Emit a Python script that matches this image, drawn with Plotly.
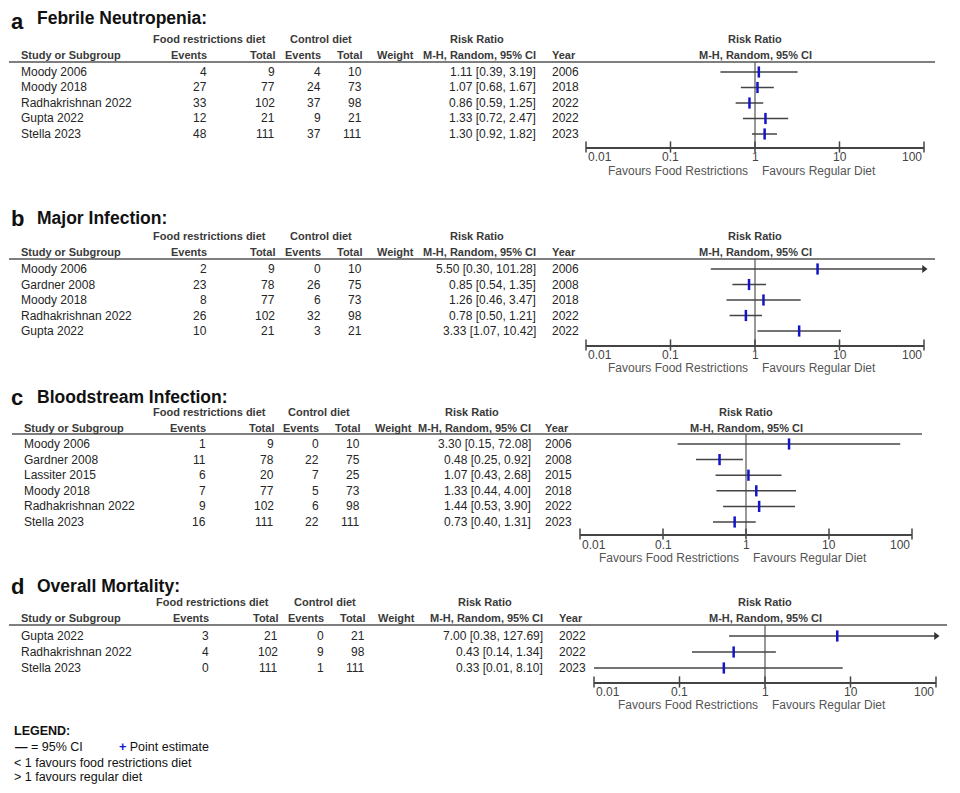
import math
import plotly.graph_objects as go

# reference canvas is 960x793; the html body adds an 8px margin, so the figure is
# drawn 8px in from the top-left corner and sized to fit inside the window.
OX, OY = 8, 8
W, H = 944, 777
FONT = "Arial, Liberation Sans, sans-serif"

# ---------------- data ----------------
a_studies = ["Moody 2006", "Moody 2018", "Radhakrishnan 2022", "Gupta 2022", "Stella 2023"]
a_ev_food = [4, 27, 33, 12, 48]
a_tot_food = [9, 77, 102, 21, 111]
a_ev_ctrl = [4, 24, 37, 9, 37]
a_tot_ctrl = [10, 73, 98, 21, 111]
a_rr = [1.11, 1.07, 0.86, 1.33, 1.30]
a_lo = [0.39, 0.68, 0.59, 0.72, 0.92]
a_hi = [3.19, 1.67, 1.25, 2.47, 1.82]
a_year = [2006, 2018, 2022, 2022, 2023]

b_studies = ["Moody 2006", "Gardner 2008", "Moody 2018", "Radhakrishnan 2022", "Gupta 2022"]
b_ev_food = [2, 23, 8, 26, 10]
b_tot_food = [9, 78, 77, 102, 21]
b_ev_ctrl = [0, 26, 6, 32, 3]
b_tot_ctrl = [10, 75, 73, 98, 21]
b_rr = [5.50, 0.85, 1.26, 0.78, 3.33]
b_lo = [0.30, 0.54, 0.46, 0.50, 1.07]
b_hi = [101.28, 1.35, 3.47, 1.21, 10.42]
b_year = [2006, 2008, 2018, 2022, 2022]

c_studies = ["Moody 2006", "Gardner 2008", "Lassiter 2015", "Moody 2018", "Radhakrishnan 2022", "Stella 2023"]
c_ev_food = [1, 11, 6, 7, 9, 16]
c_tot_food = [9, 78, 20, 77, 102, 111]
c_ev_ctrl = [0, 22, 7, 5, 6, 22]
c_tot_ctrl = [10, 75, 25, 73, 98, 111]
c_rr = [3.30, 0.48, 1.07, 1.33, 1.44, 0.73]
c_lo = [0.15, 0.25, 0.43, 0.44, 0.53, 0.40]
c_hi = [72.08, 0.92, 2.68, 4.00, 3.90, 1.31]
c_year = [2006, 2008, 2015, 2018, 2022, 2023]

d_studies = ["Gupta 2022", "Radhakrishnan 2022", "Stella 2023"]
d_ev_food = [3, 4, 0]
d_tot_food = [21, 102, 111]
d_ev_ctrl = [0, 9, 1]
d_tot_ctrl = [21, 98, 111]
d_rr = [7.00, 0.43, 0.33]
d_lo = [0.38, 0.14, 0.01]
d_hi = [127.69, 1.34, 8.10]
d_year = [2022, 2022, 2023]

tick_vals = [0.01, 0.1, 1, 10, 100]
tick_text = ["0.01", "0.1", "1", "10", "100"]
AX_MIN, AX_MAX = 0.01, 100

# ---------------- layout positions (reference pixels) ----------------
panels = [
    dict(letter="a", title="Febrile Neutropenia:",
         studies=a_studies, ev1=a_ev_food, tot1=a_tot_food, ev2=a_ev_ctrl, tot2=a_tot_ctrl,
         rr=a_rr, lo=a_lo, hi=a_hi, year=a_year,
         title_y=17, h1=39, h2=55, hdr=62, row0=72, sp=15.5, axis=147, tick_y=157, fav_y=171,
         ax_x=(586, 924), line_x=(9, 935),
         cols=dict(study=19, ev1=209, tot1=277, ev2=323, tot2=364, weight=375, rr=538, year=550),
         food_hdr=209, ctrl_hdr=321, rr_hdr=477),
    dict(letter="b", title="Major Infection:",
         studies=b_studies, ev1=b_ev_food, tot1=b_tot_food, ev2=b_ev_ctrl, tot2=b_tot_ctrl,
         rr=b_rr, lo=b_lo, hi=b_hi, year=b_year,
         title_y=217, h1=236, h2=252, hdr=259, row0=269, sp=15.5, axis=345, tick_y=355, fav_y=368,
         ax_x=(586, 924), line_x=(9, 935),
         cols=dict(study=19, ev1=209, tot1=277, ev2=323, tot2=364, weight=375, rr=538, year=550),
         food_hdr=209, ctrl_hdr=321, rr_hdr=477),
    dict(letter="c", title="Bloodstream Infection:",
         studies=c_studies, ev1=c_ev_food, tot1=c_tot_food, ev2=c_ev_ctrl, tot2=c_tot_ctrl,
         rr=c_rr, lo=c_lo, hi=c_hi, year=c_year,
         title_y=396, h1=412, h2=428, hdr=434, row0=444, sp=15.6, axis=534, tick_y=545, fav_y=558,
         ax_x=(580, 912), line_x=(12, 922),
         cols=dict(study=22, ev1=208, tot1=276, ev2=321, tot2=362, weight=373, rr=533, year=543),
         food_hdr=209, ctrl_hdr=319, rr_hdr=472),
    dict(letter="d", title="Overall Mortality:",
         studies=d_studies, ev1=d_ev_food, tot1=d_tot_food, ev2=d_ev_ctrl, tot2=d_tot_ctrl,
         rr=d_rr, lo=d_lo, hi=d_hi, year=d_year,
         title_y=585, h1=602, h2=618, hdr=625, row0=636, sp=16, axis=682, tick_y=692, fav_y=705,
         ax_x=(594, 936), line_x=(9, 947),
         cols=dict(study=19, ev1=211, tot1=280, ev2=326, tot2=367, weight=376, rr=545, year=557),
         food_hdr=212, ctrl_hdr=325, rr_hdr=485),
]

TXT = "#262626"
HDR = "#3a3a3a"
CI_COL = "#444444"
PT_COL = "#1414c8"
F_TXT = 12
F_HDR = 11
F_LETTER = 22


def px(x):
    return (x - OX) / W


def py(y):
    return 1 - (y - OY) / H


fig = go.Figure()
annotations = []
shapes = []
layout_axes = {}

for k, p in enumerate(panels, start=1):
    xa = "x" if k == 1 else f"x{k}"
    ya = "y" if k == 1 else f"y{k}"
    xkey = "xaxis" if k == 1 else f"xaxis{k}"
    ykey = "yaxis" if k == 1 else f"yaxis{k}"
    n = len(p["studies"])
    top = -(p["row0"] - p["hdr"]) / p["sp"]
    bot = (p["axis"] - p["row0"]) / p["sp"]
    rows = list(range(n))

    layout_axes[xkey] = dict(type="log", range=[math.log10(AX_MIN), math.log10(AX_MAX)],
                             domain=[px(p["ax_x"][0]), px(p["ax_x"][1])], anchor=ya,
                             showline=True, linecolor="#444", linewidth=1.5,
                             showgrid=False, zeroline=False, ticks="", showticklabels=False,
                             fixedrange=True)
    layout_axes[ykey] = dict(range=[bot, top], domain=[py(p["axis"]), py(p["hdr"])],
                             anchor=xa, visible=False, fixedrange=True)

    # vertical line at RR = 1
    fig.add_trace(go.Scatter(x=[1, 1], y=[top, bot], xaxis=xa, yaxis=ya, mode="lines",
                             line=dict(color="#333", width=1), hoverinfo="skip", showlegend=False))
    # axis tick marks
    fig.add_trace(go.Scatter(x=tick_vals, y=[bot] * len(tick_vals), xaxis=xa, yaxis=ya,
                             mode="markers", cliponaxis=False,
                             marker=dict(symbol="line-ns", size=8, line=dict(color="#444", width=1.5)),
                             hoverinfo="skip", showlegend=False))
    # CI lines
    for i in rows:
        lo = max(p["lo"][i], AX_MIN)
        hi = min(p["hi"][i], AX_MAX)
        fig.add_trace(go.Scatter(x=[lo, hi], y=[i, i], xaxis=xa, yaxis=ya, mode="lines",
                                 line=dict(color=CI_COL, width=1.5), hoverinfo="skip",
                                 showlegend=False, cliponaxis=False))
    # arrows for CIs beyond the axis
    arr_x = [AX_MAX for i in rows if p["hi"][i] > AX_MAX]
    arr_y = [i for i in rows if p["hi"][i] > AX_MAX]
    if arr_x:
        fig.add_trace(go.Scatter(x=arr_x, y=arr_y, xaxis=xa, yaxis=ya, mode="markers",
                                 cliponaxis=False,
                                 marker=dict(symbol="triangle-right", size=7, color="#333"),
                                 hoverinfo="skip", showlegend=False))
    # point estimates
    fig.add_trace(go.Scatter(x=p["rr"], y=rows, xaxis=xa, yaxis=ya, mode="markers",
                             marker=dict(symbol="line-ns", size=8, line=dict(color=PT_COL, width=2.5)),
                             hoverinfo="skip", showlegend=False))

    # header rule
    shapes.append(dict(type="line", xref="paper", yref="paper",
                       x0=px(p["line_x"][0]), x1=px(p["line_x"][1]),
                       y0=py(p["hdr"]), y1=py(p["hdr"]), line=dict(color="#555", width=1.5)))

    # title (panel letter kept fully inside the canvas)
    letter_y = max(p["title_y"] + 1.5, OY + (F_LETTER * 1.12 + 2) / 2)
    annotations.append(dict(text=f"<b>{p['letter']}</b>", xref="paper", yref="paper",
                            x=px(9), y=py(letter_y), xanchor="left", yanchor="middle",
                            showarrow=False, font=dict(size=F_LETTER, color="#111", family=FONT)))
    annotations.append(dict(text=f"<b>{p['title']}</b>", xref="paper", yref="paper",
                            x=px(35), y=py(p["title_y"] + 1), xanchor="left", yanchor="middle",
                            showarrow=False, font=dict(size=17.5, color="#111", family=FONT)))

    c = p["cols"]

    def hdr_text(text, x, y, anchor):
        annotations.append(dict(text=f"<b>{text}</b>", xref="paper", yref="paper",
                                x=px(x), y=py(y), xanchor=anchor, yanchor="middle",
                                showarrow=False, font=dict(size=F_HDR, color=HDR, family=FONT)))

    hdr_text("Food restrictions diet", p["food_hdr"], p["h1"], "center")
    hdr_text("Control diet", p["ctrl_hdr"], p["h1"], "center")
    hdr_text("Risk Ratio", p["rr_hdr"], p["h1"], "center")
    hdr_text("Study or Subgroup", c["study"], p["h2"], "left")
    hdr_text("Events", c["ev1"], p["h2"], "right")
    hdr_text("Total", c["tot1"], p["h2"], "right")
    hdr_text("Events", c["ev2"], p["h2"], "right")
    hdr_text("Total", c["tot2"], p["h2"], "right")
    hdr_text("Weight", c["weight"], p["h2"], "left")
    hdr_text("M-H, Random, 95% CI", c["rr"], p["h2"], "right")
    hdr_text("Year", c["year"], p["h2"], "left")
    # right-hand header centred on RR = 1
    for txt, yy in (("Risk Ratio", p["h1"]), ("M-H, Random, 95% CI", p["h2"])):
        annotations.append(dict(text=f"<b>{txt}</b>", xref=xa, yref="paper", x=0,
                                y=py(yy), xanchor="center", yanchor="middle", showarrow=False,
                                font=dict(size=F_HDR, color=HDR, family=FONT)))

    # table rows
    for i in rows:
        cells = [
            (p["studies"][i], c["study"], "left"),
            (str(p["ev1"][i]), c["ev1"], "right"),
            (str(p["tot1"][i]), c["tot1"], "right"),
            (str(p["ev2"][i]), c["ev2"], "right"),
            (str(p["tot2"][i]), c["tot2"], "right"),
            (f"{p['rr'][i]:.2f} [{p['lo'][i]:.2f}, {p['hi'][i]:.2f}]", c["rr"], "right"),
            (str(p["year"][i]), c["year"], "left"),
        ]
        for txt, x, anc in cells:
            annotations.append(dict(text=txt, xref="paper", yref=ya, x=px(x), y=i,
                                    xanchor=anc, yanchor="middle", showarrow=False,
                                    font=dict(size=F_TXT, color=TXT, family=FONT)))

    # tick labels
    for j, (tv, tt) in enumerate(zip(tick_vals, tick_text)):
        anc = "left" if j == 0 else ("right" if j == len(tick_vals) - 1 else "center")
        annotations.append(dict(text=tt, xref=xa, yref="paper", x=math.log10(tv),
                                y=py(p["tick_y"]), xanchor=anc, yanchor="middle", showarrow=False,
                                font=dict(size=12, color="#444", family=FONT)))
    # favours labels
    annotations.append(dict(text="Favours Food Restrictions", xref=xa, yref="paper", x=0,
                            xshift=-5, y=py(p["fav_y"]), xanchor="right", yanchor="middle",
                            showarrow=False, font=dict(size=12, color="#555", family=FONT)))
    annotations.append(dict(text="Favours Regular Diet", xref=xa, yref="paper", x=0,
                            xshift=5, y=py(p["fav_y"]), xanchor="left", yanchor="middle",
                            showarrow=False, font=dict(size=12, color="#555", family=FONT)))

# ---------------- legend block ----------------
legend_items = [
    ("<b>LEGEND:</b>", 12, 731, 12.5),
    ("<b>—</b> = 95% CI", 13, 747, 12.5),
    ("<span style='color:#1414c8'><b>+</b></span> Point estimate", 117, 747, 12.5),
    ("< 1 favours food restrictions diet", 12, 763, 12.5),
    ("> 1 favours regular diet", 12, 777, 12.5),
]
for txt, xx, yy, fs in legend_items:
    annotations.append(dict(text=txt, xref="paper", yref="paper", x=px(xx), y=py(yy),
                            xanchor="left", yanchor="middle", showarrow=False,
                            font=dict(size=fs, color="#111", family=FONT)))

fig.update_layout(
    width=W, height=H, margin=dict(l=0, r=0, t=0, b=0),
    paper_bgcolor="white", plot_bgcolor="rgba(0,0,0,0)",
    showlegend=False, annotations=annotations, shapes=shapes,
    font=dict(family=FONT),
    **layout_axes,
)

fig.write_html("out.html")
